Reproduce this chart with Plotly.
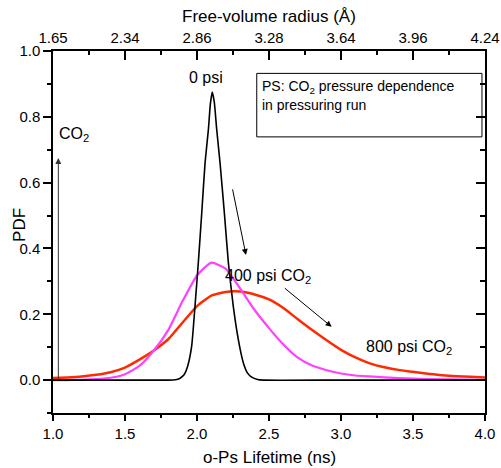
import plotly.graph_objects as go

# ---- data ----
tau_0psi = [1.0, 1.5, 1.80, 1.85, 1.88, 1.91, 1.935, 1.963, 1.986, 2.009, 2.033, 2.056, 2.079, 2.093,
            2.106, 2.12, 2.137, 2.16, 2.19, 2.218, 2.252, 2.287, 2.322, 2.35, 2.38, 2.42, 2.46, 3.0, 4.0]
pdf_0psi = [0.0, 0.0, 0.0, 0.001, 0.005, 0.016, 0.042, 0.103, 0.224, 0.356, 0.508, 0.66, 0.761, 0.84,
            0.875, 0.845, 0.761, 0.66, 0.508, 0.356, 0.224, 0.123, 0.052, 0.022, 0.009, 0.002, 0.0, 0.0, 0.0]

tau_400psi = [1.0, 1.1, 1.2, 1.3, 1.4, 1.5, 1.6, 1.7, 1.8, 1.9, 2.0, 2.1, 2.2, 2.3, 2.4, 2.5, 2.6,
              2.7, 2.8, 2.9, 3.0, 3.1, 3.2, 3.4, 3.6, 4.0]
pdf_400psi = [0.0, 0.0, 0.001, 0.003, 0.007, 0.018, 0.043, 0.09, 0.152, 0.24, 0.318, 0.357, 0.338,
              0.278, 0.213, 0.158, 0.108, 0.068, 0.044, 0.03, 0.02, 0.014, 0.011, 0.006, 0.003, 0.001]

tau_800psi = [1.0, 1.1, 1.2, 1.3, 1.4, 1.5, 1.6, 1.7, 1.8, 1.9, 2.0, 2.1, 2.2, 2.3, 2.4, 2.5, 2.6,
              2.7, 2.8, 2.9, 3.0, 3.1, 3.2, 3.3, 3.4, 3.5, 3.6, 3.7, 3.8, 3.9, 4.0]
pdf_800psi = [0.006, 0.008, 0.011, 0.016, 0.024, 0.038, 0.062, 0.09, 0.124, 0.175, 0.225, 0.257, 0.268,
              0.269, 0.26, 0.245, 0.219, 0.185, 0.152, 0.121, 0.092, 0.069, 0.051, 0.039, 0.031, 0.025,
              0.019, 0.015, 0.012, 0.010, 0.008]

x_tick_vals = [1.0, 1.5, 2.0, 2.5, 3.0, 3.5, 4.0]
x_tick_labels = ["1.0", "1.5", "2.0", "2.5", "3.0", "3.5", "4.0"]
x_minor_vals = [1.25, 1.75, 2.25, 2.75, 3.25, 3.75]
radius_tick_labels = ["1.65", "2.34", "2.86", "3.28", "3.64", "3.96", "4.24"]
y_tick_vals = [0.0, 0.2, 0.4, 0.6, 0.8, 1.0]
y_tick_labels = ["0.0", "0.2", "0.4", "0.6", "0.8", "1.0"]
y_minor_vals = [-0.1, 0.1, 0.3, 0.5, 0.7, 0.9]

FONT = "Liberation Sans, Arial, sans-serif"
TICKFONT = dict(family=FONT, size=15, color="black")
ANNFONT = dict(family=FONT, size=16, color="black")

fig = go.Figure()
fig.add_trace(go.Scatter(x=tau_800psi, y=pdf_800psi, mode="lines", name="800 psi CO2",
                         line=dict(color="#FF2A00", width=2.5, shape="spline", smoothing=0.5),
                         xaxis="x", yaxis="y"))
fig.add_trace(go.Scatter(x=tau_400psi, y=pdf_400psi, mode="lines", name="400 psi CO2",
                         line=dict(color="#FF40FF", width=2.2, shape="spline", smoothing=0.5),
                         xaxis="x", yaxis="y"))
fig.add_trace(go.Scatter(x=tau_0psi, y=pdf_0psi, mode="lines", name="0 psi",
                         line=dict(color="black", width=1.6, shape="spline", smoothing=0.5),
                         xaxis="x2", yaxis="y2"))

common_axis = dict(showline=True, linecolor="black", linewidth=1.5, showgrid=False, zeroline=False,
                   tickcolor="black", tickwidth=1.5, tickfont=TICKFONT, automargin=False)

fig.update_layout(
    width=501, height=468,
    margin=dict(l=53, r=16, t=51, b=55),
    paper_bgcolor="white", plot_bgcolor="white",
    showlegend=False,
    font=dict(family=FONT, color="black"),
    xaxis=dict(range=[1.0, 4.0], ticks="outside", ticklen=6,
               tickmode="array", tickvals=x_tick_vals, ticktext=x_tick_labels,
               minor=dict(tickvals=x_minor_vals, ticks="outside", ticklen=3, tickcolor="black", tickwidth=1.5),
               **common_axis),
    xaxis2=dict(range=[1.0, 4.0], overlaying="x", side="top", anchor="y", ticks="inside", ticklen=9,
                tickmode="array", tickvals=x_tick_vals, ticktext=radius_tick_labels,
                minor=dict(tickvals=x_minor_vals, ticks="inside", ticklen=4, tickcolor="black", tickwidth=1.5),
                **common_axis),
    yaxis=dict(range=[-0.1, 1.0], ticks="outside", ticklen=8,
               tickmode="array", tickvals=y_tick_vals, ticktext=y_tick_labels,
               minor=dict(tickvals=y_minor_vals, ticks="outside", ticklen=4, tickcolor="black", tickwidth=1.5),
               **common_axis),
    yaxis2=dict(range=[-0.1, 1.0], overlaying="y", side="right", anchor="x", ticks="inside", ticklen=9,
                tickmode="array", tickvals=y_tick_vals, showticklabels=False,
                minor=dict(tickvals=y_minor_vals, ticks="inside", ticklen=5, tickcolor="black", tickwidth=1.5),
                **common_axis),
)

# box around the note
fig.add_shape(type="rect", xref="x", yref="y", x0=2.415, x1=3.979, y0=0.739, y1=0.932,
              line=dict(color="black", width=1), fillcolor="rgba(0,0,0,0)")

ann = []
def txt(x, y, s, xanchor="center", font=ANNFONT, xref="x", yref="y", textangle=0):
    ann.append(dict(x=x, y=y, xref=xref, yref=yref, text=s, showarrow=False, xanchor=xanchor,
                    yanchor="middle", font=font, textangle=textangle))

def arrow(x, y, ax, ay, color="black"):
    ann.append(dict(x=x, y=y, ax=ax, ay=ay, xref="x", yref="y", axref="x", ayref="y", text="",
                    showarrow=True, arrowhead=2, arrowsize=1.2, arrowwidth=1, arrowcolor=color, standoff=0))

txt(2.06, 0.918, "0 psi")
txt(1.03, 0.745, "CO<sub>2</sub>", xanchor="left")
txt(2.178, 0.315, "400 psi CO<sub>2</sub>", xanchor="left")
txt(3.162, 0.099, "800 psi CO<sub>2</sub>", xanchor="left")
BOXFONT = dict(family=FONT, size=14, color="black")
txt(2.44, 0.89, "PS: CO<sub>2</sub> pressure dependence", xanchor="left", font=BOXFONT)
txt(2.44, 0.835, "in pressuring run", xanchor="left", font=BOXFONT)

arrow(2.34, 0.38, 2.245, 0.584)
arrow(2.935, 0.162, 2.599, 0.283)
arrow(1.037, 0.675, 1.037, 0.0, color="#333333")

TITLEFONT = dict(family=FONT, size=17, color="black")
txt(0.5, -0.123, "o-Ps Lifetime (ns)", xref="paper", yref="paper", font=TITLEFONT)
txt(0.5, 1.095, "Free-volume radius (Å)", xref="paper", yref="paper", font=TITLEFONT)
txt(-0.076, 0.52, "PDF", xref="paper", yref="paper", font=TITLEFONT, textangle=-90)

fig.update_layout(annotations=ann)
fig.write_html("out.html")
